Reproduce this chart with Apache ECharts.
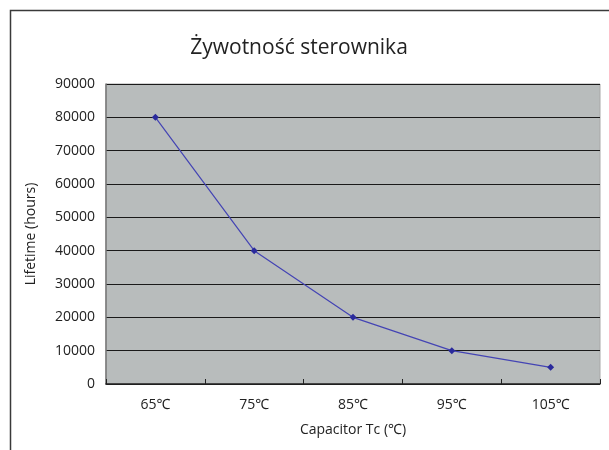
<!DOCTYPE html>
<html>
<head>
<meta charset="utf-8">
<title>Żywotność sterownika</title>
<script src="https://cdn.jsdelivr.net/npm/echarts@6/dist/echarts.min.js"></script>
<style>
  html, body { margin: 0; padding: 0; background: #fff; }
  #chart { width: 609px; height: 450px; }
</style>
</head>
<body>
<div id="chart"></div>
<script>
// Data
const categories = ['65℃', '75℃', '85℃', '95℃', '105℃']
const lifetimeHours = [80000, 40000, 20000, 10000, 5000]

const FONT = '"Open Sans", "Noto Sans", sans-serif'

const chart = echarts.init(document.getElementById('chart'), null, { renderer: 'canvas' })

chart.setOption({
  backgroundColor: '#ffffff',
  animation: false,
  // outer frame of the original chart object
  graphic: [{
    type: 'rect',
    shape: { x: 10.5, y: 10.5, width: 700, height: 700 },
    style: { fill: 'none', stroke: '#3a3a3a', lineWidth: 1.5 },
    silent: true
  }],
  title: {
    text: 'Żywotność sterownika',
    left: 294,
    textAlign: 'center',
    top: 33,
    textStyle: { fontFamily: FONT, fontSize: 21, fontWeight: 'normal', color: '#222' }
  },
  grid: {
    left: 106,
    right: 9,
    top: 84,
    bottom: 66,
    show: true,
    backgroundColor: '#b8bcbc',
    borderColor: '#a8a8a8',
    borderWidth: 1
  },
  xAxis: {
    type: 'category',
    data: categories,
    boundaryGap: true,
    name: 'Capacitor Tc (℃)',
    nameLocation: 'middle',
    nameGap: 39,
    nameTextStyle: { fontFamily: FONT, fontSize: 14, color: '#222' },
    axisLine: { lineStyle: { color: '#222', width: 1.5 } },
    axisTick: { show: true, inside: true, length: 5, lineStyle: { color: '#222' } },
    axisLabel: { fontFamily: FONT, fontSize: 14, color: '#222', margin: 14 },
    splitLine: { show: false }
  },
  yAxis: {
    type: 'value',
    min: 0,
    max: 90000,
    interval: 10000,
    name: 'Lifetime (hours)',
    nameLocation: 'middle',
    nameGap: 68,
    nameTextStyle: { fontFamily: FONT, fontSize: 14, color: '#222' },
    axisLine: { show: true, lineStyle: { color: '#777', width: 1.5 } },
    axisTick: { show: false },
    axisLabel: {
      fontFamily: FONT,
      fontSize: 14,
      color: '#222',
      margin: 11,
      formatter: v => String(v)
    },
    splitLine: { show: true, lineStyle: { color: '#1a1a1a', width: 1 } }
  },
  series: [{
    type: 'line',
    data: lifetimeHours,
    symbol: 'diamond',
    symbolSize: 7,
    itemStyle: { color: '#2a2a9c' },
    lineStyle: { color: '#4444b4', width: 1.2 }
  }]
})
</script>
</body>
</html>
